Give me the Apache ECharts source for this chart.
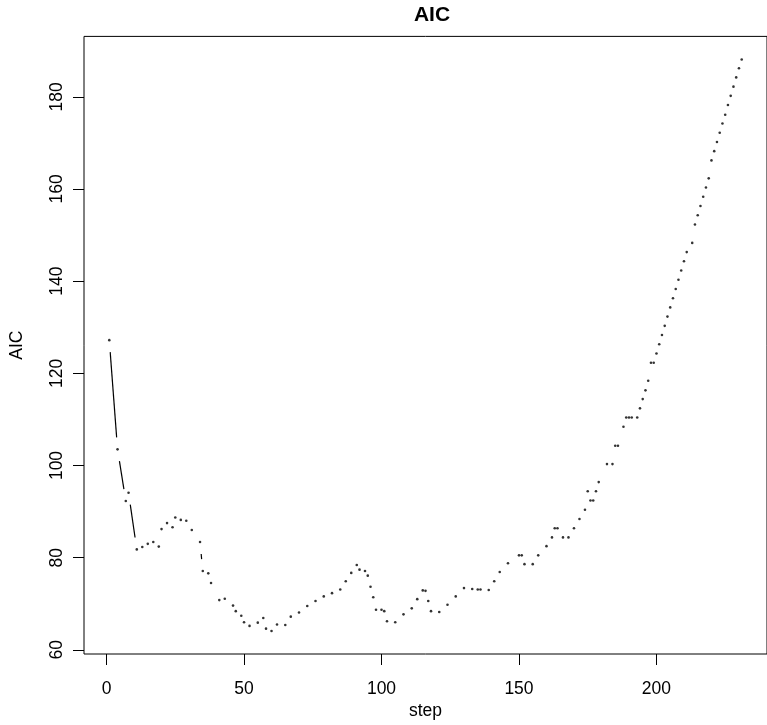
<!DOCTYPE html>
<html>
<head>
<meta charset="utf-8">
<script src="https://cdn.jsdelivr.net/npm/echarts@6/dist/echarts.min.js"></script>
<style>
  html, body { margin: 0; padding: 0; background: #fff; }
  #chart { width: 767px; height: 725px; }
</style>
</head>
<body>
<div id="chart"></div>
<script>
// step number of each point
const steps = [
  1, 4, 7, 8, 11, 13, 15, 17, 19, 20, 22, 24, 25, 27, 29, 31, 34, 35, 37, 38,
  41, 43, 46, 47, 49, 50, 52, 55, 57, 58, 60, 62, 65, 67, 70, 73, 76, 79, 82, 85,
  87, 89, 91, 92, 94, 95, 96, 97, 98, 100, 101, 102, 105, 108, 111, 113, 115, 116, 117, 118,
  121, 124, 127, 130, 133, 135, 136, 139, 141, 143, 146, 150, 151, 152, 155, 157, 160, 162, 163, 164,
  166, 168, 170, 172, 174, 175, 176, 177, 178, 179, 182, 184, 185, 186, 188, 189, 190, 191, 193, 194,
  195, 196, 197, 198, 199, 200, 201, 202, 203, 204, 205, 206, 207, 208, 209, 210, 211, 213, 214, 215,
  216, 217, 218, 219, 220, 221, 222, 223, 224, 225, 226, 227, 228, 229, 230, 231
];
// AIC at each step
const aicValues = [
  127.2, 103.5, 92.3, 94.1, 81.8, 82.3, 83.0, 83.4, 82.4, 86.2, 87.5, 86.6, 88.7, 88.2, 88.0, 86.0, 83.4, 77.1, 76.6, 74.5,
  70.8, 71.1, 69.6, 68.4, 67.4, 66.0, 65.2, 65.9, 66.9, 64.6, 64.1, 65.5, 65.4, 67.2, 68.1, 69.5, 70.6, 71.6, 72.3, 73.1,
  74.9, 76.7, 78.4, 77.4, 77.1, 76.1, 73.7, 71.4, 68.7, 68.7, 68.4, 66.2, 66.0, 67.7, 69.0, 71.0, 72.9, 72.8, 70.6, 68.4,
  68.2, 69.8, 71.6, 73.4, 73.2, 73.1, 73.1, 73.0, 74.9, 76.9, 78.8, 80.5, 80.5, 78.6, 78.6, 80.5, 82.5, 84.4, 86.4, 86.4,
  84.4, 84.4, 86.4, 88.4, 90.4, 94.4, 92.4, 92.4, 94.4, 96.4, 100.3, 100.3, 104.3, 104.3, 108.4, 110.4, 110.4, 110.4, 110.4, 112.4,
  114.4, 116.3, 118.4, 122.3, 122.3, 124.3, 126.3, 128.3, 130.3, 132.3, 134.3, 136.3, 138.3, 140.3, 142.3, 144.3, 146.3, 148.3, 152.3, 154.3,
  156.3, 158.3, 160.3, 162.3, 166.2, 168.2, 170.2, 172.2, 174.2, 176.1, 178.2, 180.2, 182.2, 184.2, 186.2, 188.1
];
const xTicks = [0, 50, 100, 150, 200];
const yTicks = [60, 80, 100, 120, 140, 160, 180];

const FONT = "'Liberation Sans', Arial, Helvetica, sans-serif";

const points = steps.map((s, i) => [s, aicValues[i]]);
// segments between consecutive points (drawn like R's type = "b")
const segments = [];
for (let i = 1; i < points.length; i++) {
  segments.push([points[i - 1][0], points[i - 1][1], points[i][0], points[i][1]]);
}

const GAP = 12;

const chart = echarts.init(document.getElementById('chart'));

const option = {
  animation: false,
  backgroundColor: '#fff',
  title: {
    text: 'AIC',
    left: 427,
    top: 0,
    textAlign: 'center',
    textStyle: { fontFamily: FONT, fontSize: 21, fontWeight: 'bold', color: '#000' }
  },
  grid: {
    left: 84,
    top: 36.4,
    width: 689,
    height: 617.6,
    show: true,
    borderColor: '#000',
    borderWidth: 1,
    backgroundColor: 'transparent'
  },
  xAxis: {
    type: 'value',
    min: -8.2,
    max: 240.2,
    name: 'step',
    nameLocation: 'middle',
    nameGap: 48,
    nameMoveOverlap: false,
    nameTextStyle: { fontFamily: FONT, fontSize: 17.5, color: '#000' },
    axisLine: { show: false, onZero: false },
    axisTick: { show: true, inside: false, length: 11, lineStyle: { color: '#000', width: 1 }, customValues: xTicks },
    axisLabel: { fontFamily: FONT, fontSize: 17.5, color: '#000', margin: 26, customValues: xTicks },
    splitLine: { show: false }
  },
  yAxis: {
    type: 'value',
    min: 59.1,
    max: 193.1,
    name: 'AIC',
    nameLocation: 'middle',
    nameGap: 58,
    nameRotate: 90,
    nameMoveOverlap: false,
    nameTextStyle: { fontFamily: FONT, fontSize: 17.5, color: '#000' },
    axisLine: { show: false, onZero: false },
    axisTick: { show: true, inside: false, length: 11, lineStyle: { color: '#000', width: 1 }, customValues: yTicks },
    axisLabel: { fontFamily: FONT, fontSize: 17.5, color: '#000', margin: 18, rotate: 90, customValues: yTicks },
    splitLine: { show: false }
  },
  series: [
    {
      type: 'custom',
      data: segments,
      encode: { x: [0, 2], y: [1, 3] },
      renderItem: function (params, api) {
        const p1 = api.coord([api.value(0), api.value(1)]);
        const p2 = api.coord([api.value(2), api.value(3)]);
        const dx = p2[0] - p1[0];
        const dy = p2[1] - p1[1];
        const d = Math.sqrt(dx * dx + dy * dy);
        if (d <= 2 * GAP) return null;
        const ux = dx / d, uy = dy / d;
        return {
          type: 'line',
          shape: {
            x1: p1[0] + ux * GAP, y1: p1[1] + uy * GAP,
            x2: p2[0] - ux * GAP, y2: p2[1] - uy * GAP
          },
          style: { stroke: '#000', lineWidth: 1.2 }
        };
      },
      silent: true,
      z: 2
    },
    {
      type: 'scatter',
      data: points,
      symbol: 'circle',
      symbolSize: 2.6,
      itemStyle: { color: '#000' },
      silent: true,
      z: 3
    }
  ]
};

chart.setOption(option);
window.addEventListener('resize', () => chart.resize());
</script>
</body>
</html>
